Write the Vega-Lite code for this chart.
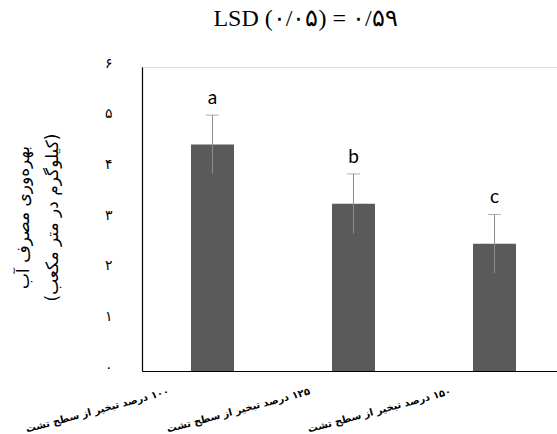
{
  "$schema": "https://vega.github.io/schema/vega-lite/v6.json",
  "width": 415,
  "height": 304,
  "autosize": {"type": "none"},
  "padding": {"left": 142, "top": 67, "right": 0, "bottom": 63},
  "background": "white",
  "title": {
    "text": "LSD (۰/۰۵) = ۰/۵۹",
    "font": "Liberation Serif",
    "fontSize": 24,
    "fontWeight": "normal",
    "color": "black",
    "anchor": "middle",
    "dx": -44,
    "offset": 25
  },
  "data": {
    "values": [
      {"treatment": "‏۱۰۰ درصد تبخیر از سطح تشت", "value": 4.47, "err": 0.58, "letter": "a"},
      {"treatment": "‏۱۲۵ درصد تبخیر از سطح تشت", "value": 3.3, "err": 0.59, "letter": "b"},
      {"treatment": "‏۱۵۰ درصد تبخیر از سطح تشت", "value": 2.51, "err": 0.58, "letter": "c"}
    ]
  },
  "encoding": {
    "x": {
      "field": "treatment",
      "type": "nominal",
      "sort": null,
      "scale": {"range": [0, 423], "paddingInner": 0.695, "paddingOuter": 0.3475},
      "axis": {
        "title": null,
        "ticks": false,
        "domainColor": "black",
        "domainWidth": 1.2,
        "labelAngle": -15,
        "labelAlign": "right",
        "labelBaseline": "top",
        "labelPadding": 15,
        "labelOffset": -45,
        "labelFont": "DejaVu Sans",
        "labelFontWeight": "bold",
        "labelFontSize": 10,
        "labelColor": "black",
        "labelLimit": 300,
        "labelOverlap": false
      }
    }
  },
  "layer": [
    {
      "mark": {"type": "bar", "color": "#5a5a5a"},
      "encoding": {
        "y": {
          "field": "value",
          "type": "quantitative",
          "scale": {"domain": [0, 6], "nice": false},
          "axis": {
            "values": [0, 1, 2, 3, 4, 5, 6],
            "labelExpr": "['۰','۱','۲','۳','۴','۵','۶'][datum.value]",
            "ticks": false,
            "grid": false,
            "domainColor": "black",
            "domainWidth": 1.2,
            "labelPadding": 30,
            "labelOffset": -4,
            "labelFont": "DejaVu Sans",
            "labelFontSize": 14,
            "labelColor": "black",
            "title": ["بهره‌وری مصرف آب", "‏(کیلوگرم در متر مکعب)‏"],
            "titleFont": "DejaVu Sans",
            "titleFontSize": 17,
            "titleFontWeight": "normal",
            "titleColor": "black",
            "titleLineHeight": 29,
            "titleX": -119,
            "titleY": 150,
            "titleAngle": -90,
            "titleAlign": "center",
            "titleBaseline": "middle"
          }
        }
      }
    },
    {
      "mark": {"type": "rule", "color": "#8c8c8c", "strokeWidth": 1},
      "encoding": {
        "y": {"field": "low", "type": "quantitative"},
        "y2": {"field": "high"}
      },
      "transform": [
        {"calculate": "datum.value - datum.err", "as": "low"},
        {"calculate": "datum.value + datum.err", "as": "high"}
      ]
    },
    {
      "mark": {"type": "tick", "color": "#8c8c8c", "size": 13, "thickness": 1},
      "transform": [{"calculate": "datum.value + datum.err", "as": "high"}],
      "encoding": {"y": {"field": "high", "type": "quantitative"}}
    },
    {
      "mark": {"type": "text", "font": "Lato", "fontSize": 19, "color": "black", "baseline": "bottom", "dy": -7},
      "transform": [{"calculate": "datum.value + datum.err", "as": "high"}],
      "encoding": {
        "y": {"field": "high", "type": "quantitative"},
        "text": {"field": "letter"}
      }
    }
  ]
}
